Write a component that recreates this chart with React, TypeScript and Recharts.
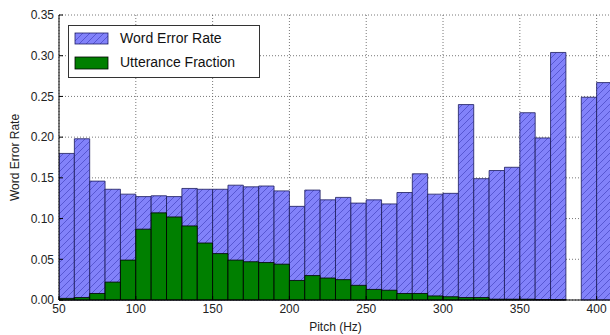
import { Bar, BarChart, CartesianGrid, Legend, XAxis, YAxis } from "recharts";

// lower edge of each 10 Hz pitch bin
const BIN_LO = [
  50, 60, 70, 80, 90, 100, 110, 120, 130, 140, 150, 160, 170, 180, 190, 200, 210, 220,
  230, 240, 250, 260, 270, 280, 290, 300, 310, 320, 330, 340, 350, 360, 370, 380, 390, 400,
];
const WORD_ERROR_RATE = [
  0.18, 0.198, 0.146, 0.136, 0.13, 0.127, 0.128, 0.127, 0.137, 0.136, 0.136, 0.141, 0.139,
  0.14, 0.134, 0.115, 0.135, 0.123, 0.126, 0.119, 0.123, 0.118, 0.132, 0.155, 0.13, 0.131,
  0.24, 0.149, 0.159, 0.163, 0.23, 0.199, 0.304, null, 0.249, 0.267,
];
const UTTERANCE_FRACTION = [
  0.002, 0.003, 0.008, 0.022, 0.049, 0.087, 0.107, 0.102, 0.091, 0.07, 0.057, 0.049, 0.047,
  0.046, 0.044, 0.024, 0.03, 0.027, 0.025, 0.018, 0.013, 0.012, 0.008, 0.008, 0.005, 0.004,
  0.003, 0.003, 0.001, 0.001, 0.001, 0.0005, 0.0003, 0, 0, 0,
];
const X_TICKS = [50, 100, 150, 200, 250, 300, 350, 400];
const Y_TICKS = [0, 0.05, 0.1, 0.15, 0.2, 0.25, 0.3, 0.35];

const rows = BIN_LO.map((lo, i) => ({
  pitch: lo + 5,
  wer: WORD_ERROR_RATE[i],
  uf: UTTERANCE_FRACTION[i],
}));

const W = 625;
const H = 335;
const MARGIN = { top: 15, right: 13, bottom: 0, left: 0 };
const Y_AXIS_W = 59;
const X_AXIS_H = 35;
// just under the bin spacing, otherwise recharts shrinks bars to 90%
const BAR_W = (W - Y_AXIS_W - MARGIN.right) / 36 - 0.02;

const FONT = "'Liberation Sans', Arial, sans-serif";
const BLUE = "#8282fa";
const GREEN = "#007f00";

function HatchDefs() {
  return (
    <defs>
      <pattern id="hatch" patternUnits="userSpaceOnUse" width="7" height="7">
        <rect width="7" height="7" fill={BLUE} />
        <path d="M-1,8 L8,-1 M-2,2 L2,-2 M5,9 L9,5" stroke="#4b4bc8" strokeWidth="0.8" />
      </pattern>
    </defs>
  );
}

function LegendBox() {
  return (
    <div
      style={{
        width: 190,
        height: 51,
        border: "1px solid #333",
        background: "#fff",
        fontFamily: FONT,
        fontSize: 14,
        color: "#111",
        position: "relative",
      }}
    >
      <svg width={40} height={51} style={{ position: "absolute", left: 0, top: 0 }}>
        <rect x={6} y={7} width={33} height={11} fill="url(#hatch)" stroke="#20206a" strokeWidth={0.8} />
        <rect x={6} y={31} width={33} height={12} fill={GREEN} stroke="#000" strokeWidth={0.8} />
      </svg>
      <div style={{ position: "absolute", left: 51, top: 4, whiteSpace: "nowrap" }}>Word Error Rate</div>
      <div style={{ position: "absolute", left: 51, top: 28, whiteSpace: "nowrap" }}>Utterance Fraction</div>
    </div>
  );
}

function YTitle({ viewBox }: any) {
  const cy = viewBox.y + viewBox.height / 2;
  return (
    <text
      x={15}
      y={cy}
      transform={`rotate(-90 15 ${cy})`}
      textAnchor="middle"
      dominantBaseline="central"
      fontSize={12}
      fontFamily={FONT}
      fill="#222"
    >
      Word Error Rate
    </text>
  );
}

export default function App() {
  const tickStyle = { fontSize: 12, fontFamily: FONT, fill: "#222" };
  return (
    <div style={{ position: "absolute", left: 0, top: 0, width: 610, height: 335, overflow: "hidden", background: "#fff" }}>
      <BarChart width={W} height={H} data={rows} margin={MARGIN} barGap={0} barCategoryGap={0}>
        <HatchDefs />
        <XAxis
          xAxisId="bottom"
          dataKey="pitch"
          type="number"
          domain={[50, 410]}
          ticks={X_TICKS}
          allowDataOverflow
          height={X_AXIS_H}
          tick={tickStyle}
          tickSize={-4}
          tickMargin={8}
          stroke="#000"
          label={{ value: "Pitch (Hz)", position: "insideBottom", offset: 4, fontSize: 12, fontFamily: FONT, fill: "#222" }}
        />
        <XAxis
          xAxisId="top"
          dataKey="pitch"
          type="number"
          domain={[50, 410]}
          ticks={X_TICKS}
          orientation="top"
          height={0}
          tick={false}
          tickLine={false}
          stroke="#000"
        />
        <YAxis
          type="number"
          domain={[0, 0.35]}
          ticks={Y_TICKS}
          width={Y_AXIS_W}
          tick={tickStyle}
          tickSize={-4}
          tickMargin={9}
          tickFormatter={(v: number) => v.toFixed(2)}
          stroke="#000"
          label={<YTitle />}
        />
        <Legend
          layout="horizontal"
          verticalAlign="middle"
          align="center"
          content={() => <LegendBox />}
          wrapperStyle={{ left: 68, top: 25, width: 192, height: 53 }}
        />
        <Bar
          xAxisId="bottom"
          dataKey="wer"
          barSize={BAR_W}
          fill="url(#hatch)"
          stroke="#1c1c5c"
          strokeWidth={0.8}
          isAnimationActive={false}
        />
        <Bar
          xAxisId="top"
          dataKey="uf"
          barSize={BAR_W}
          fill={GREEN}
          stroke="#000"
          strokeWidth={0.8}
          isAnimationActive={false}
        />
        <CartesianGrid xAxisId="bottom" stroke="#555" strokeDasharray="1 2" strokeWidth={0.8} />
      </BarChart>
    </div>
  );
}
